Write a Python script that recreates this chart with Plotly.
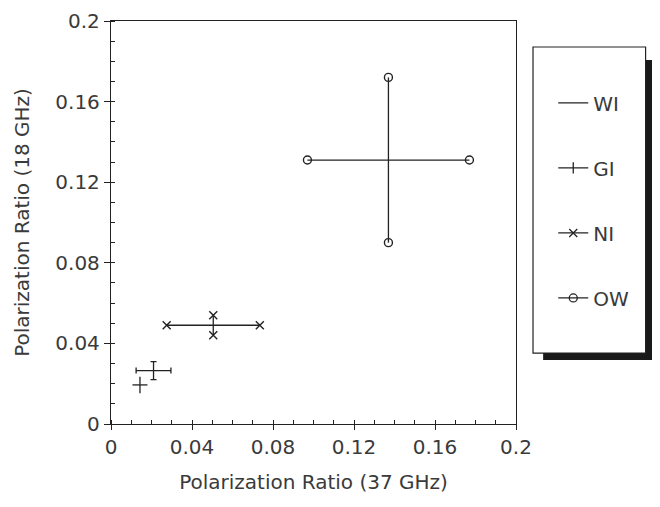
import plotly.graph_objects as go

# Data
names = ["WI", "GI", "NI", "OW"]
x_center = [0.0143, 0.0210, 0.0505, 0.1370]
x_err = [0.0037, 0.0086, 0.0230, 0.0400]
y_center = [0.0194, 0.0265, 0.0490, 0.1310]
y_err = [0.0041, 0.0045, 0.0050, 0.0410]

end_symbols = [None, None, "x-thin", "circle-open"]
cap_widths = [0, 3, 0, 0]
legend_symbols = [None, "line-ns", "x-thin", "circle-open"]

INK = "#222222"
TXT = "#3a3a3a"
FONT = "DejaVu Sans"

fig = go.Figure()

for i, n in enumerate(names):
    fig.add_trace(go.Scatter(
        x=[x_center[i]], y=[y_center[i]], mode="markers",
        marker=dict(size=1, color="rgba(0,0,0,0)"),
        error_x=dict(type="data", array=[x_err[i]], symmetric=True,
                     thickness=1.3, width=cap_widths[i], color=INK),
        error_y=dict(type="data", array=[y_err[i]], symmetric=True,
                     thickness=1.3, width=cap_widths[i], color=INK),
        showlegend=False, hoverinfo="skip"))
    if end_symbols[i]:
        ex = [x_center[i] - x_err[i], x_center[i] + x_err[i], x_center[i], x_center[i]]
        ey = [y_center[i], y_center[i], y_center[i] + y_err[i], y_center[i] - y_err[i]]
        fig.add_trace(go.Scatter(
            x=ex, y=ey, mode="markers",
            marker=dict(symbol=end_symbols[i], size=8, color=INK,
                        line=dict(color=INK, width=1.4)),
            showlegend=False, hoverinfo="skip"))

# Legend entries
for i, n in enumerate(names):
    sym = legend_symbols[i]
    fig.add_trace(go.Scatter(
        x=[None], y=[None], name=n, legendgroup=n,
        mode="lines+markers" if sym else "lines",
        line=dict(color=INK, width=1.3),
        marker=dict(symbol=sym or "circle", size=8, color=INK,
                    line=dict(color=INK, width=1.3)),
        showlegend=True))

# Legend box with shadow (paper coordinates)
fig.add_shape(type="rect", xref="paper", yref="paper",
              x0=1.067, x1=1.336, y0=0.159, y1=0.903,
              fillcolor="#1a1a1a", line=dict(width=0), layer="above")
fig.add_shape(type="rect", xref="paper", yref="paper",
              x0=1.042, x1=1.320, y0=0.176, y1=0.9355,
              fillcolor="white", line=dict(color=INK, width=1.2), layer="above")

axis_common = dict(range=[0, 0.2], showgrid=False, zeroline=False,
                   showline=True, linecolor=INK, linewidth=1.3, mirror=True,
                   tickcolor=INK, tickwidth=1.2, automargin=False,
                   tickfont=dict(family=FONT, size=20, color=TXT),
                   tickvals=[0, 0.04, 0.08, 0.12, 0.16, 0.2],
                   ticktext=["0", "0.04", "0.08", "0.12", "0.16", "0.2"],
                   ticks="outside",
                   minor=dict(dtick=0.01, ticks="inside", ticklen=4,
                              tickcolor=INK, tickwidth=1.1))

fig.update_layout(
    width=660, height=491,
    margin=dict(l=103, r=152, t=13, b=75, autoexpand=False),
    paper_bgcolor="white", plot_bgcolor="white",
    font=dict(family=FONT, color=TXT),
    xaxis=dict(axis_common, ticklen=5,
               title=dict(text="Polarization Ratio (37 GHz)",
                          font=dict(family=FONT, size=20, color=TXT),
                          standoff=16)),
    yaxis=dict(axis_common, ticklen=6,
               title=dict(text="Polarization Ratio (18 GHz)",
                          font=dict(family=FONT, size=20, color=TXT),
                          standoff=20)),
    xaxis2=dict(range=[0, 0.2], overlaying="x", anchor="y", side="bottom",
                showgrid=False, zeroline=False, showline=False, automargin=False,
                showticklabels=False, ticks="inside", ticklen=4,
                tickcolor=INK, tickwidth=1.2,
                tickvals=[0, 0.04, 0.08, 0.12, 0.16, 0.2]),
    yaxis2=dict(range=[0, 0.2], overlaying="y", anchor="x", side="left",
                showgrid=False, zeroline=False, showline=False, automargin=False,
                showticklabels=False, ticks="inside", ticklen=5,
                tickcolor=INK, tickwidth=1.2,
                tickvals=[0, 0.04, 0.08, 0.12, 0.16, 0.2]),
    legend=dict(x=1.092, xanchor="left", y=0.845, yanchor="top",
                bgcolor="rgba(0,0,0,0)", borderwidth=0,
                font=dict(family=FONT, size=20, color=TXT),
                tracegroupgap=36, itemclick=False, itemdoubleclick=False),
    showlegend=True,
)

fig.write_html("out.html")
